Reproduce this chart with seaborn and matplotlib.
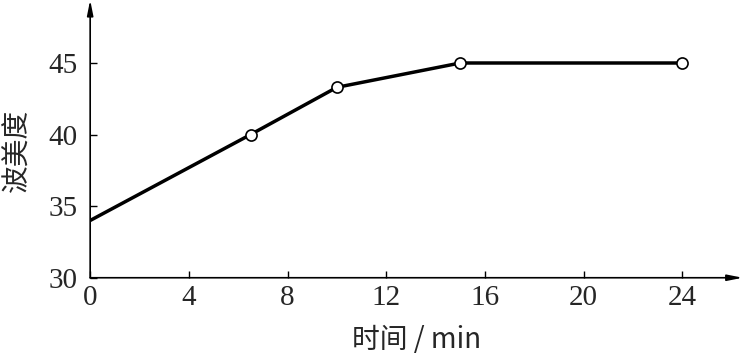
import matplotlib
matplotlib.use("Agg")
import matplotlib.pyplot as plt
import seaborn as sns
import pandas as pd

time_min = [0, 6.5, 10, 15, 24]
baume = [34, 40, 43.3, 45, 45]
x_ticks = [0, 4, 8, 12, 16, 20, 24]
y_ticks = [30, 35, 40, 45]
x_label = "时间 / min"
y_label = "波美度"

sns.set_style("white")
plt.rcParams['font.family'] = ['Liberation Serif', 'Noto Sans CJK SC', 'DejaVu Sans']

df = pd.DataFrame({"t": time_min, "b": baume})

fig = plt.figure(figsize=(7.44, 3.57), dpi=100)
ax = fig.add_axes([0.1212, 0.222, 0.877, 0.778])

sns.lineplot(data=df, x="t", y="b", ax=ax, color="black", linewidth=2.5)
ax.plot(df["t"][1:], df["b"][1:], linestyle="none", marker="o", markersize=8,
        markerfacecolor="white", markeredgecolor="black", markeredgewidth=1.2, zorder=5)

ax.set_xlim(0, 26.45)
ax.set_ylim(30, 49.4)
ax.set_xticks(x_ticks)
ax.set_yticks(y_ticks)
for s in ax.spines.values():
    s.set_visible(False)
ax.tick_params(direction="in", length=5, width=1, color="black", labelsize=21,
               bottom=True, left=True)
ax.tick_params(axis="x", pad=5)
ax.tick_params(axis="y", pad=9)

arrow = dict(arrowstyle="-|>,head_length=0.9,head_width=0.18", color="black", lw=1.2,
             shrinkA=0, shrinkB=0)
ax.annotate("", xy=(1.0, 0), xycoords="axes fraction", xytext=(0, 0), arrowprops=arrow,
            annotation_clip=False)
ax.annotate("", xy=(0, 1.0), xycoords="axes fraction", xytext=(0, 0), arrowprops=arrow,
            annotation_clip=False)

ax.set_xlabel(x_label, fontsize=20, labelpad=10,
              family=['Noto Sans CJK SC', 'Liberation Serif'])
ax.set_ylabel(y_label, fontsize=20,
              family=['Noto Sans CJK SC', 'Liberation Serif'])
ax.yaxis.set_label_coords(-0.088, 0.46)

fig.savefig("out.png", dpi=100)
